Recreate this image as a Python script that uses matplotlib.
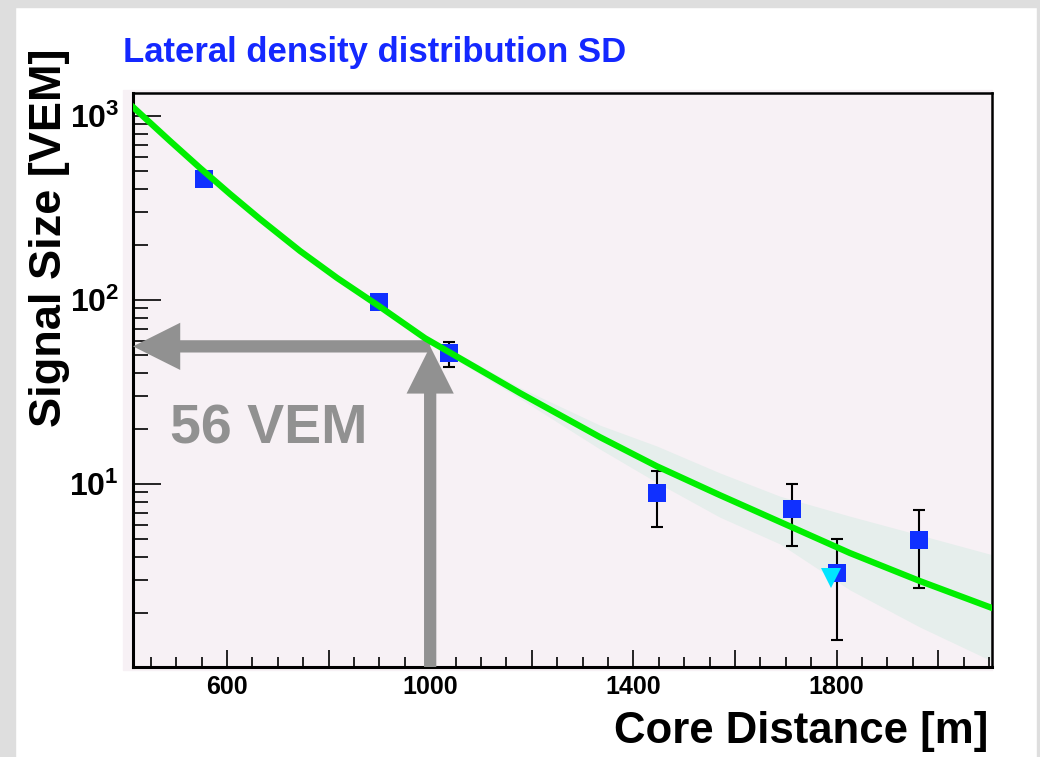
import numpy as np
import matplotlib.pyplot as plt
from matplotlib.patches import Rectangle
from matplotlib.ticker import FixedLocator, MultipleLocator, FuncFormatter, LogLocator, NullFormatter

plt.rcParams['font.family'] = ['Liberation Sans', 'DejaVu Sans']
plt.rcParams['font.weight'] = 'bold'
plt.rcParams['axes.labelweight'] = 'bold'
plt.rcParams['mathtext.fontset'] = 'custom'
plt.rcParams['mathtext.rm'] = 'Liberation Sans:bold'
plt.rcParams['mathtext.bf'] = 'Liberation Sans:bold'

# SD stations: core distance [m], signal [VEM] and error bar ends
dist = [555, 899, 1037, 1446, 1712, 1800, 1962]
signal = [455, 97.5, 51.5, 8.98, 7.28, 3.30, 4.97]
sig_low = [445, 94.0, 43.4, 5.82, 4.60, 1.42, 2.71]
sig_high = [465, 101.0, 58.9, 11.8, 9.95, 5.02, 7.19]

# station below trigger threshold
lim_dist = [1790]
lim_signal = [3.08]

# LDF fit with its uncertainty band
fit_dist = [415, 488, 547, 606, 665, 744, 817, 899, 990, 1078, 1177, 1334, 1446,
            1570, 1689, 1826, 1964, 2106]
fit_signal = [1119, 731, 522, 377, 275.5, 184.6, 131.7, 92.8, 62, 44.9, 31.2, 18.0, 12.5,
              8.71, 6.22, 4.22, 2.97, 2.12]
fit_low = [1094, 714, 510, 368, 268, 178.8, 127.2, 89.4, 59.6, 42.7, 29.1, 15.5, 10.2,
           6.61, 4.72, 2.66, 1.67, 1.09]
fit_high = [1145, 748, 534, 386, 283, 190.6, 136.3, 96.3, 64.5, 47.2, 33.4, 20.9, 16.1,
            11.5, 8.58, 6.69, 5.28, 4.13]

# S(1000)
r_opt = 1000
s_opt = 56

x_major = [600, 800, 1000, 1200, 1400, 1600, 1800, 2000]
x_labeled = [600, 1000, 1400, 1800]
xmin, xmax = 415, 2106
ymin, ymax = 1.013, 1334

pink = '#f7f1f5'
gray = '#919191'

fig = plt.figure(figsize=(10.4, 7.57), dpi=100)
fig.patch.set_facecolor('white')
# canvas border
fig.add_artist(Rectangle((0, 0), 15/1040, 1, transform=fig.transFigure, color='#dedede', zorder=0))
fig.add_artist(Rectangle((0, 1-7/757), 1, 7/757, transform=fig.transFigure, color='#dedede', zorder=0))
fig.add_artist(Rectangle((1-3/1040, 0), 3/1040, 1, transform=fig.transFigure, color='#dedede', zorder=0))
fig.add_artist(Rectangle((123/1040, 87/757), 869/1040, 580/757, transform=fig.transFigure,
                         color=pink, zorder=0))

ax = fig.add_axes([133/1040, 90/757, 859/1040, 574/757])
ax.set_facecolor(pink)
ax.set_yscale('log')
ax.set_xlim(xmin, xmax)
ax.set_ylim(ymin, ymax)

ax.fill_between(fit_dist, fit_low, fit_high, color='#e6eeec', lw=0, zorder=1)

arrow = dict(arrowstyle='simple,head_length=1,head_width=1,tail_width=0.26',
             mutation_scale=34, color=gray, lw=0, shrinkA=0, shrinkB=0)
ax.annotate('', xy=(xmin, s_opt), xytext=(r_opt, s_opt), arrowprops=arrow, zorder=3)
ax.annotate('', xy=(r_opt, s_opt), xytext=(r_opt, ymin), arrowprops=arrow, zorder=3)
ax.text(488, 16.7, f'{s_opt} VEM', fontsize=40, color=gray, va='baseline', zorder=3)

yerr = [np.array(signal) - np.array(sig_low), np.array(sig_high) - np.array(signal)]
ax.errorbar(dist, signal, yerr=yerr, fmt='none', ecolor='black', elinewidth=1.5,
            capsize=4.5, capthick=1.5, zorder=4)
ax.plot(dist, signal, 's', color='#1030ff', markersize=13.5, markeredgewidth=0, zorder=4.5)
ax.plot(fit_dist, fit_signal, color='#00ee00', lw=4.5, zorder=5, solid_joinstyle='round')
ax.plot(lim_dist, lim_signal, 'v', color='#00e5ff', markersize=14, markeredgewidth=0, zorder=6)

ax.xaxis.set_major_locator(FixedLocator(x_major))
ax.xaxis.set_minor_locator(MultipleLocator(50))
ax.xaxis.set_major_formatter(FuncFormatter(lambda v, p: f'{v:.0f}' if round(v) in x_labeled else ''))
ax.yaxis.set_major_locator(LogLocator(base=10))
ax.yaxis.set_minor_locator(LogLocator(base=10, subs=np.arange(2, 10)))
ax.yaxis.set_major_formatter(FuncFormatter(lambda v, p: r'$\mathbf{10^{%d}}$' % round(np.log10(v))))
ax.yaxis.set_minor_formatter(NullFormatter())

ax.tick_params(axis='x', which='both', direction='in', top=False, labelsize=18, pad=6, width=1.2)
ax.tick_params(axis='x', which='major', length=12.5)
ax.tick_params(axis='x', which='minor', length=7.2)
ax.tick_params(axis='y', which='both', direction='in', right=False, labelsize=23, pad=10, width=1.2)
ax.tick_params(axis='y', which='major', length=20)
ax.tick_params(axis='y', which='minor', length=11)

for side in ['left', 'bottom']:
    ax.spines[side].set_linewidth(2.2)
for side in ['top', 'right']:
    ax.spines[side].set_linewidth(1.8)

ax.set_xlabel('Core Distance [m]', fontsize=31.5, ha='right', va='baseline')
ax.xaxis.set_label_coords((988-133)/859, (667-743)/574)
ax.set_ylabel('Signal Size [VEM]', fontsize=32.5)
ax.yaxis.set_label_coords(-0.0733, 0.748)

fig.text(375/1040, (757-62)/757, 'Lateral density distribution SD', color='#1428ff',
         fontsize=25, ha='center', va='baseline')

fig.savefig('out.png', dpi=100)
